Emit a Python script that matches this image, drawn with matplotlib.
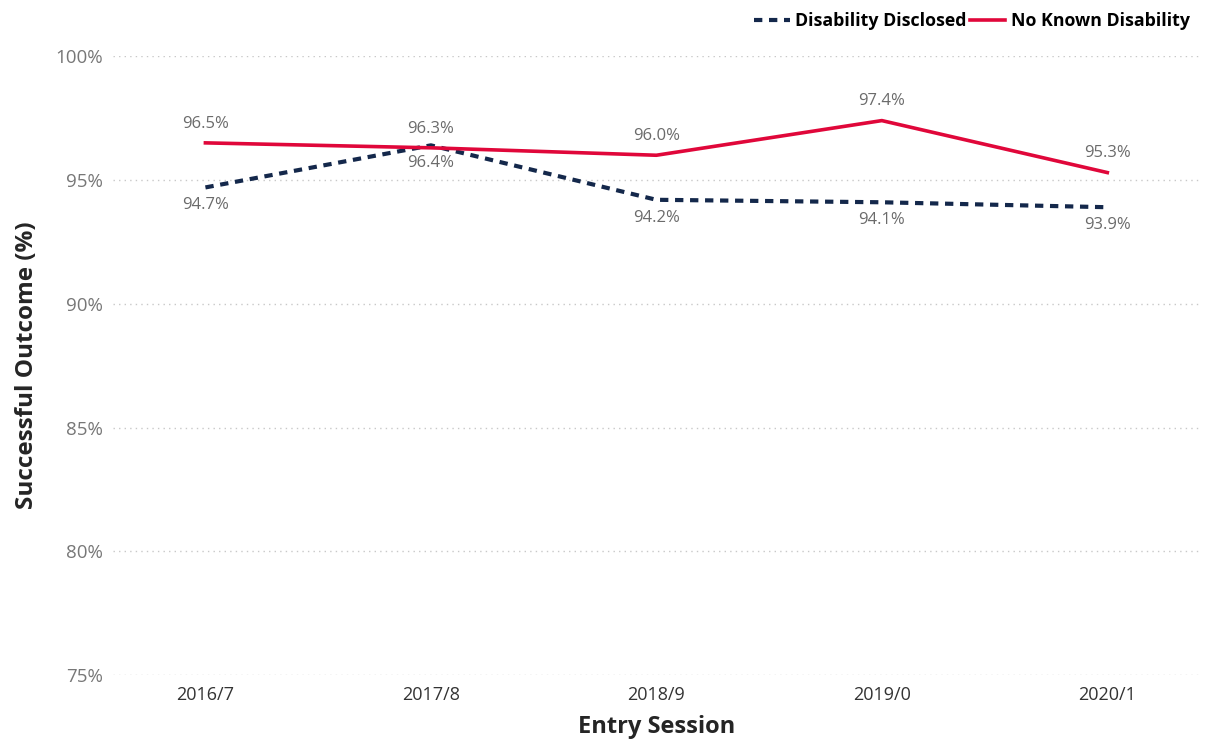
import matplotlib.pyplot as plt
from matplotlib.ticker import FuncFormatter

plt.rcParams['font.family'] = ['Open Sans', 'DejaVu Sans']

sessions = ['2016/7', '2017/8', '2018/9', '2019/0', '2020/1']
disclosed = [94.7, 96.4, 94.2, 94.1, 93.9]
no_known = [96.5, 96.3, 96.0, 97.4, 95.3]
y_ticks = [75, 80, 85, 90, 95, 100]

navy = '#14284b'
red = '#e0073a'
grey = '#6b6b6b'

fig = plt.figure(figsize=(12.07, 7.4), dpi=100)
ax = fig.add_axes([0.0936, 0.0878, 0.9004, 0.8362])

x = list(range(len(sessions)))
ax.plot(x, disclosed, color=navy, lw=3, linestyle=(0, (2, 1.6)), label='Disability Disclosed')
ax.plot(x, no_known, color=red, lw=2.6, label='No Known Disability')

# data labels: red above, navy below
for i, v in enumerate(no_known):
    ax.annotate(f'{v:.1f}%', (i, v), xytext=(0, 8), textcoords='offset points',
                ha='center', va='bottom', color=grey, fontsize=12)
for i, v in enumerate(disclosed):
    ax.annotate(f'{v:.1f}%', (i, v), xytext=(0, -7), textcoords='offset points',
                ha='center', va='top', color=grey, fontsize=12)

ax.set_xlim(-0.41, 4.41)
ax.set_ylim(75, 100)
ax.set_xticks(x)
ax.set_xticklabels(sessions, fontsize=13, color='#333333')
ax.set_yticks(y_ticks)
ax.yaxis.set_major_formatter(FuncFormatter(lambda v, p: f'{v:.0f}%'))
ax.tick_params(axis='y', labelsize=13.5, labelcolor='#777777', length=0, pad=7)
ax.tick_params(axis='x', length=0, pad=8)
ax.grid(axis='y', color='#c8c8c8', linestyle=(0, (1, 3)), lw=1)
for s in ax.spines.values():
    s.set_visible(False)

ax.set_xlabel('Entry Session', fontsize=17, fontweight='bold', color='#252525', labelpad=8)
ax.set_ylabel('Successful Outcome (%)', fontsize=17.5, fontweight='bold', color='#252525', labelpad=12)

leg = fig.legend(loc='upper right', bbox_to_anchor=(0.999, 1.005), ncol=2, frameon=False,
                 handlelength=2.0, columnspacing=0.2, handletextpad=0.3,
                 prop={'weight': 'bold', 'size': 12.8})

fig.savefig('out.png', dpi=100)
